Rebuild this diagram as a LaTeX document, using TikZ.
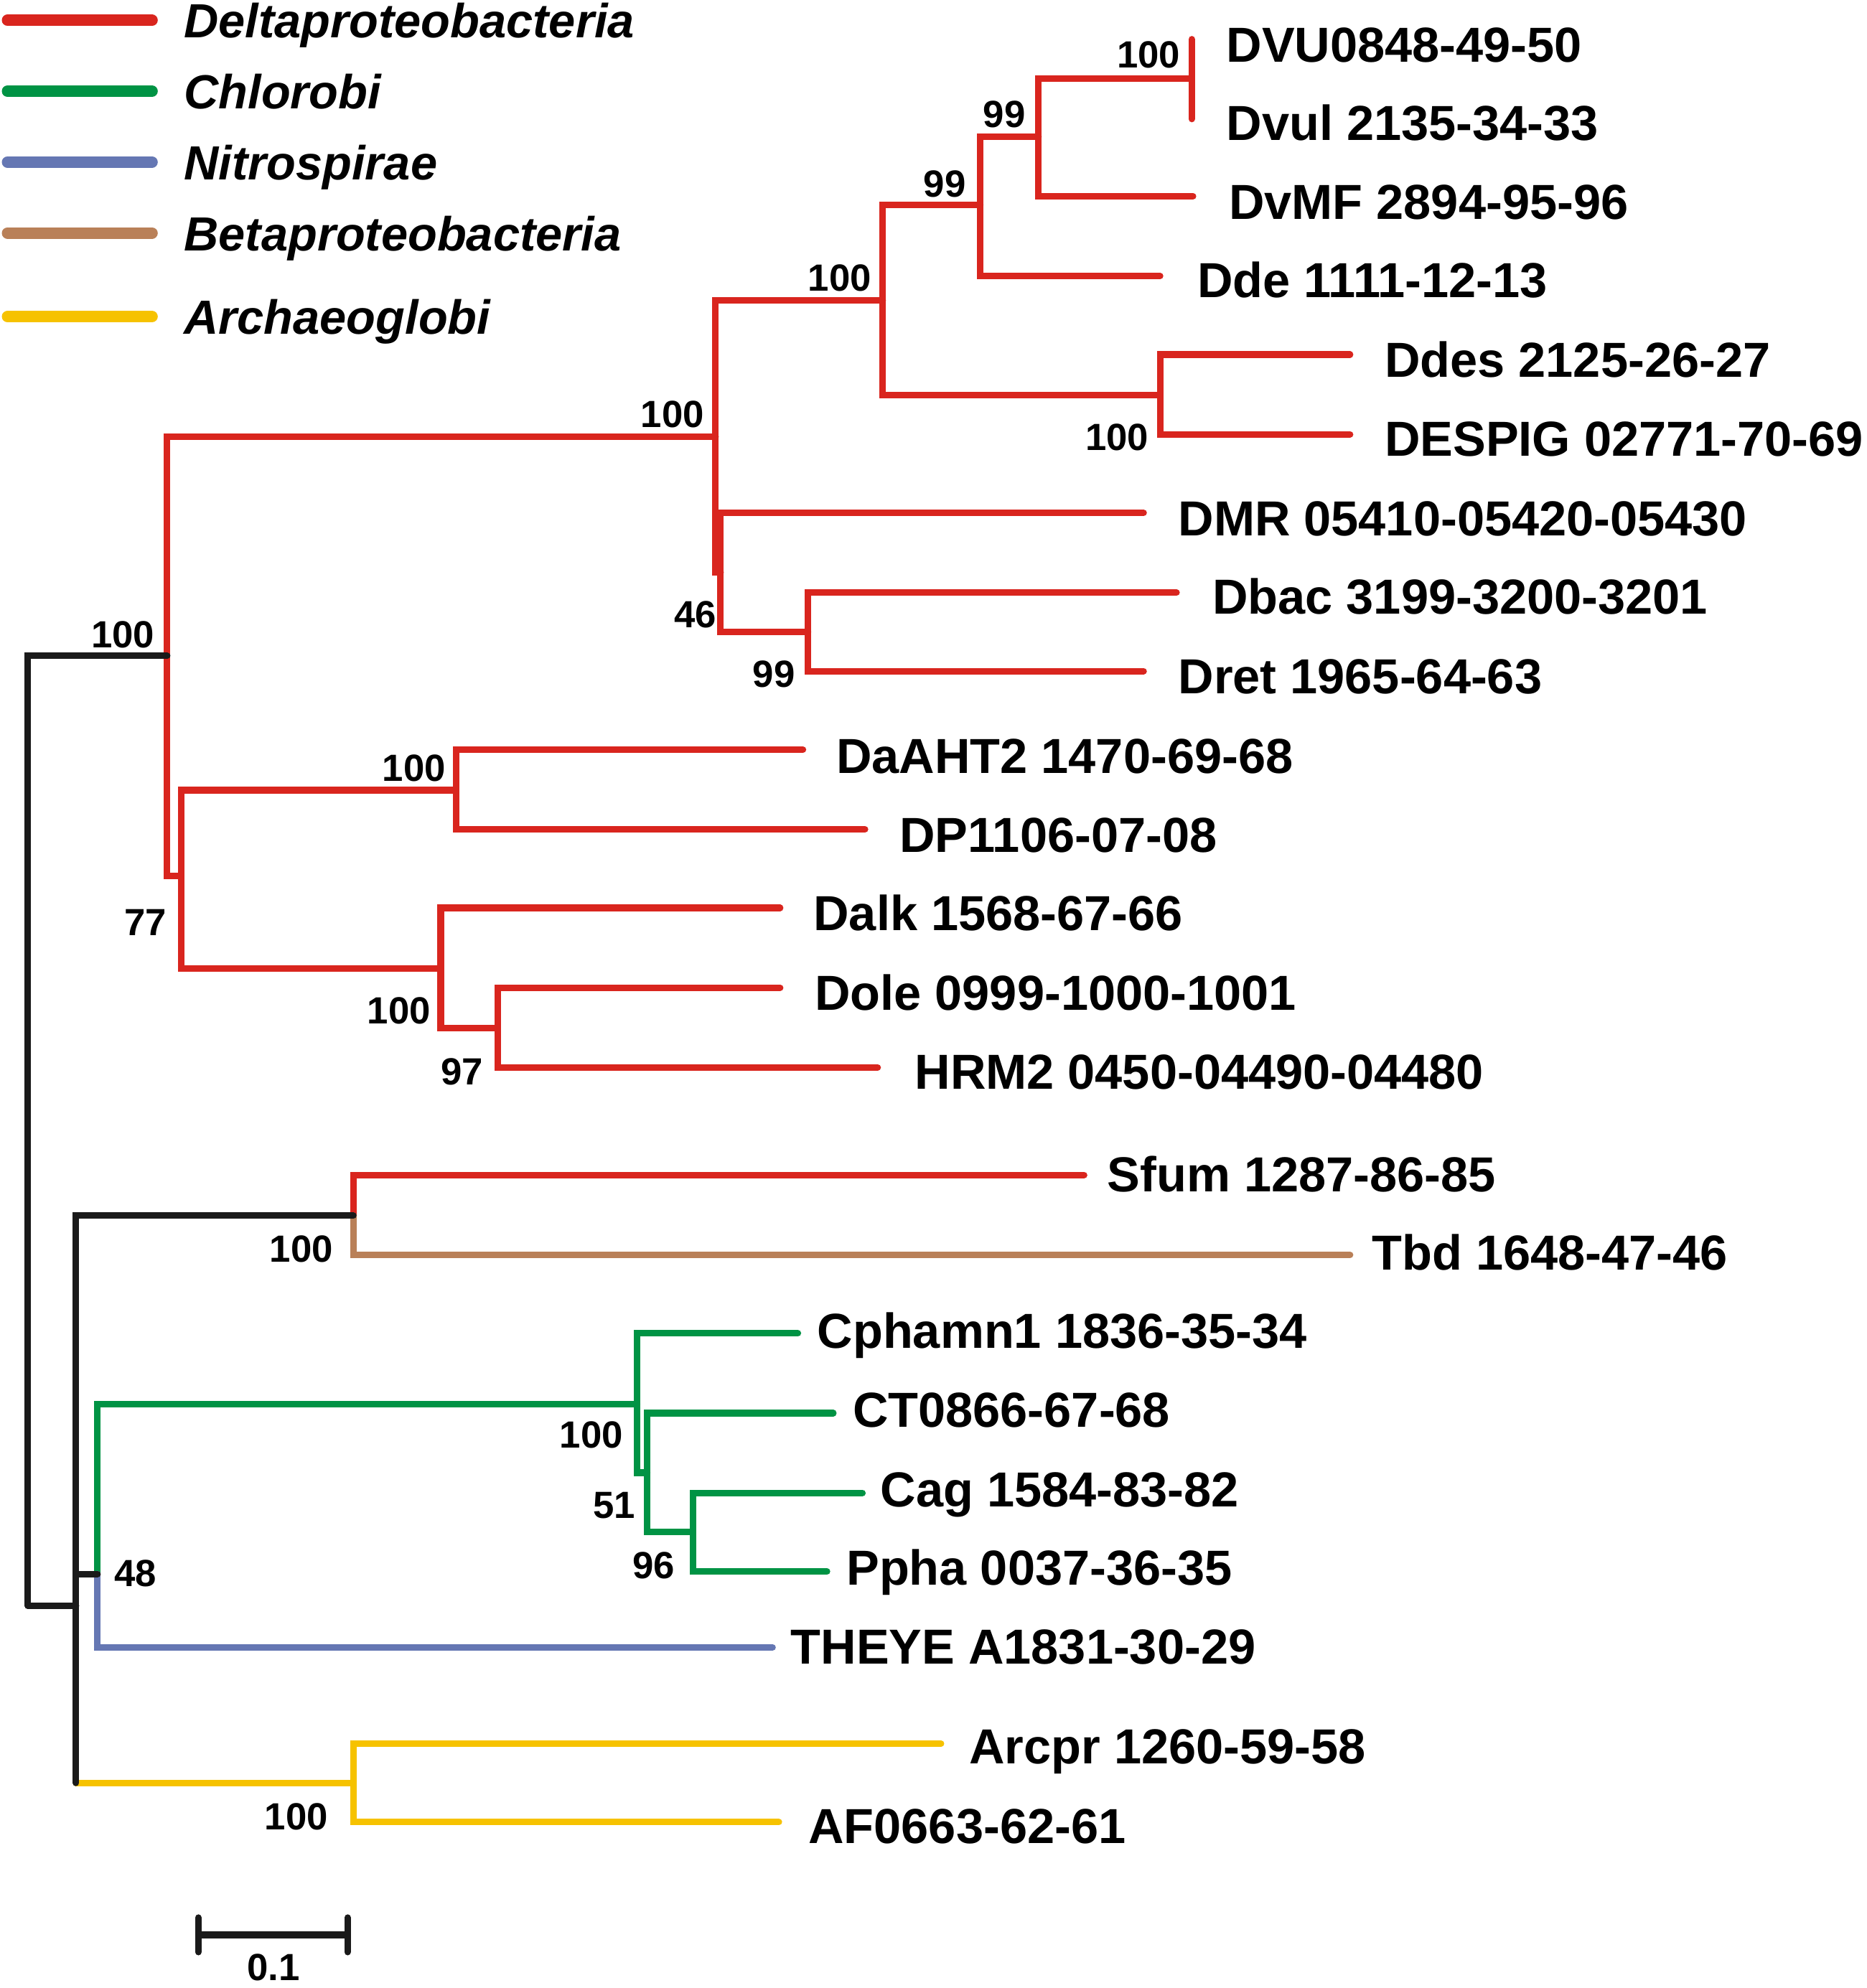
\documentclass[tikz,border=0pt]{standalone}
\usepackage{fontspec}
\setmainfont{Liberation Sans}
\usetikzlibrary{arrows.meta}

\definecolor{dred}{RGB}{217,37,30}
\definecolor{dgreen}{RGB}{0,147,68}
\definecolor{dblue}{RGB}{101,119,179}
\definecolor{dbrown}{RGB}{185,128,88}
\definecolor{dyellow}{RGB}{246,194,0}
\definecolor{dblack}{RGB}{26,26,26}

\tikzset{
  br/.style={line width=2.6pt, line cap=round},
  leaf/.style={anchor=west, inner sep=0pt, text height=14pt, text depth=0pt,
    font=\fontsize{19.5}{22}\selectfont\bfseries},
  bs/.style={inner sep=0pt, text height=10.8pt, text depth=0pt,
    font=\fontsize{15}{18}\selectfont\bfseries},
  legline/.style={line width=4.6pt, line cap=round},
  legtxt/.style={anchor=west, inner sep=0pt, text height=14pt, text depth=0pt,
    font=\fontsize{19}{22}\selectfont\bfseries\itshape}
}

\begin{document}
\begin{tikzpicture}[x=0.01764cm, y=-0.01764cm]
\useasboundingbox (0,0) rectangle (1474,1570);

% Legend
\foreach \y/\c/\t [count=\i] in {16/dred/Deltaproteobacteria, 72/dgreen/Chlorobi,
    128/dblue/Nitrospirae, 184/dbrown/Betaproteobacteria, 250/dyellow/Archaeoglobi}{
  \draw[legline, \c] (6,\y) -- (120,\y);
  \node[legtxt] (lg\i) at (145,\y) {\t};
}

% Internal nodes
\coordinate (root) at (22,1268);
\coordinate (dlt) at (132,518);
\coordinate (a1) at (565,345);
\coordinate (a2) at (697,237);
\coordinate (a3) at (774,162);
\coordinate (a4) at (820,108);
\coordinate (a5) at (941,62);
\coordinate (a6) at (916,312);
\coordinate (a7) at (569,452);
\coordinate (a8) at (638,499);
\coordinate (b1) at (143,692);
\coordinate (b2) at (360,624);
\coordinate (b3) at (348,765);
\coordinate (b4) at (393,812);
\coordinate (low) at (60,1268);
\coordinate (st) at (279,960);
\coordinate (n48) at (77,1243);
\coordinate (c1) at (503,1109);
\coordinate (c2) at (511,1163);
\coordinate (c3) at (547,1210);
\coordinate (ar) at (279,1408);

% Tips
\coordinate (t1) at (941,31);
\coordinate (t2) at (941,94);
\coordinate (t3) at (942,155);
\coordinate (t4) at (916,218);
\coordinate (t5) at (1066,280);
\coordinate (t6) at (1066,343);
\coordinate (t7) at (903,405);
\coordinate (t8) at (929,468);
\coordinate (t9) at (903,530);
\coordinate (t10) at (634,592);
\coordinate (t11) at (683,655);
\coordinate (t12) at (616,717);
\coordinate (t13) at (616,780);
\coordinate (t14) at (693,843);
\coordinate (t15) at (856,928);
\coordinate (t16) at (1066,991);
\coordinate (t17) at (630,1053);
\coordinate (t18) at (658,1116);
\coordinate (t19) at (681,1179);
\coordinate (t20) at (653,1241);
\coordinate (t21) at (610,1301);
\coordinate (t22) at (743,1377);
\coordinate (t23) at (615,1439);

% Deltaproteobacteria branches
\foreach \p/\q in {dlt/a1, dlt/b1, a1/a2, a1/a7, a2/a3, a2/a6, a3/a4, a3/t4,
    a4/a5, a4/t3, a5/t1, a5/t2, a6/t5, a6/t6, a7/t7, a7/a8, a8/t8, a8/t9,
    b1/b2, b1/b3, b2/t10, b2/t11, b3/t12, b3/b4, b4/t13, b4/t14, st/t15}
  \draw[br, dred] (\p) |- (\q);
% Betaproteobacteria
\draw[br, dbrown] (st) |- (t16);
% Chlorobi
\foreach \p/\q in {n48/c1, c1/t17, c1/c2, c2/t18, c2/c3, c3/t19, c3/t20}
  \draw[br, dgreen] (\p) |- (\q);
% Nitrospirae
\draw[br, dblue] (n48) |- (t21);
% Archaeoglobi
\draw[br, dyellow] (low |- ar) -- (ar);
\draw[br, dyellow] (ar) |- (t22);
\draw[br, dyellow] (ar) |- (t23);
% Backbone
\draw[br, dblack] (root) |- (dlt);
\draw[br, dblack] (root) -- (low);
\draw[br, dblack] (low) |- (st);
\draw[br, dblack] (low) |- (n48);
\draw[br, dblack] (low) -- (low |- ar);

% Leaf labels
\node[leaf] (l1) at (968,35) {DVU0848-49-50};
\node[leaf] (l2) at (968,97) {Dvul 2135-34-33};
\node[leaf] (l3) at (970,159) {DvMF 2894-95-96};
\node[leaf] (l4) at (945,221) {Dde 1111-12-13};
\node[leaf] (l5) at (1093,284) {Ddes 2125-26-27};
\node[leaf] (l6) at (1093,346) {DESPIG 02771-70-69};
\node[leaf] (l7) at (930,409) {DMR 05410-05420-05430};
\node[leaf] (l8) at (957,471) {Dbac 3199-3200-3201};
\node[leaf] (l9) at (930,534) {Dret 1965-64-63};
\node[leaf] (l10) at (660,597) {DaAHT2 1470-69-68};
\node[leaf] (l11) at (710,659) {DP1106-07-08};
\node[leaf] (l12) at (642,721) {Dalk 1568-67-66};
\node[leaf] (l13) at (643,784) {Dole 0999-1000-1001};
\node[leaf] (l14) at (722,846) {HRM2 0450-04490-04480};
\node[leaf] (l15) at (874,927) {Sfum 1287-86-85};
\node[leaf] (l16) at (1083,989) {Tbd 1648-47-46};
\node[leaf] (l17) at (645,1051) {Cphamn1 1836-35-34};
\node[leaf] (l18) at (673,1113) {CT0866-67-68};
\node[leaf] (l19) at (695,1176) {Cag 1584-83-82};
\node[leaf] (l20) at (668,1238) {Ppha 0037-36-35};
\node[leaf] (l21) at (624,1300) {THEYE A1831-30-29};
\node[leaf] (l22) at (765,1379) {Arcpr 1260-59-58};
\node[leaf] (l23) at (638,1442) {AF0663-62-61};

% Bootstrap values
\node[bs] (s1) at (907,43) {100};
\node[bs] (s2) at (793,90) {99};
\node[bs] (s3) at (746,145) {99};
\node[bs] (s4) at (663,219) {100};
\node[bs] (s5) at (882,345) {100};
\node[bs] (s6) at (531,327) {100};
\node[bs] (s7) at (549,485) {46};
\node[bs] (s8) at (611,532) {99};
\node[bs] (s9) at (97,501) {100};
\node[bs] (s10) at (327,606) {100};
\node[bs] (s11) at (115,728) {77};
\node[bs] (s12) at (315,798) {100};
\node[bs] (s13) at (365,846) {97};
\node[bs] (s14) at (238,986) {100};
\node[bs] (s15) at (467,1133) {100};
\node[bs] (s16) at (485,1188) {51};
\node[bs] (s17) at (516,1236) {96};
\node[bs] (s18) at (107,1242) {48};
\node[bs] (s19) at (234,1434) {100};

% Scale bar
\coordinate (sb1) at (154,1528);
\coordinate (sb2) at (277,1528);
\draw[line width=2.6pt, dblack, {Bar[width=0.48cm, round]}-{Bar[width=0.48cm, round]}] (sb1) -- (sb2);
\node[bs] (sbl) at (216,1553) {0.1};
\end{tikzpicture}
\end{document}
